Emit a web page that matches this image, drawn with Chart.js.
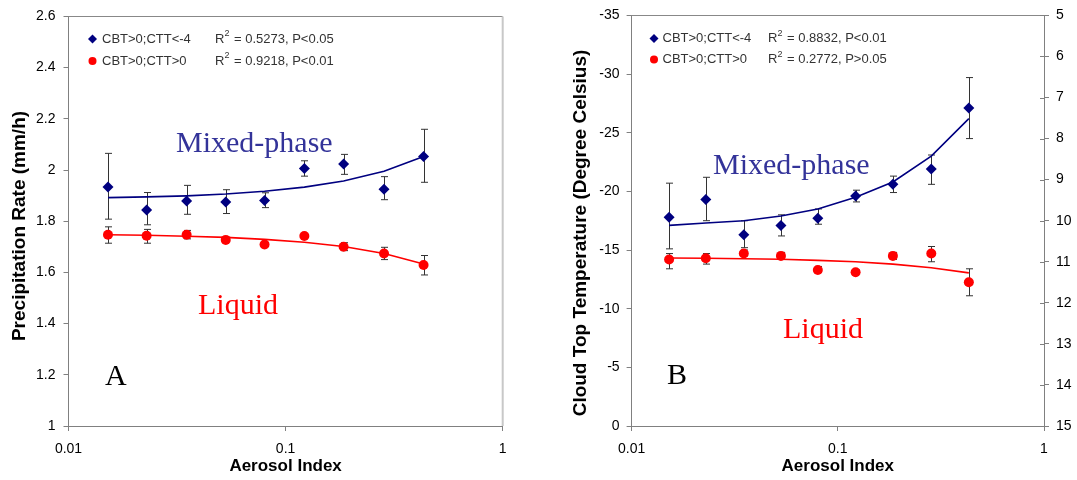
<!DOCTYPE html>
<html>
<head>
<meta charset="utf-8">
<script src="https://cdn.jsdelivr.net/npm/chart.js@4/dist/chart.umd.min.js"></script>
<style>
  body { margin: 0; background: #fff; width: 1077px; height: 480px; overflow: hidden; position: relative; }
  #boxA { position: absolute; left: 0; top: 0; width: 540px; height: 480px; }
  #boxB { position: absolute; left: 540px; top: 0; width: 537px; height: 480px; }
</style>
</head>
<body>
<div id="boxA"><canvas id="chartA"></canvas></div>
<div id="boxB"><canvas id="chartB"></canvas></div>
<script>
// aerosol index bins (shared by both panels)
const aerosol = [0.0152, 0.0229, 0.035, 0.053, 0.080, 0.122, 0.185, 0.284, 0.432];

// panel A - precipitation rate (mm/h)
const precipMixed    = [1.934, 1.844, 1.879, 1.875, 1.881, 2.006, 2.023, 1.925, 2.053];
const precipMixedHi  = [2.065, 1.912, 1.940, 1.923, 1.911, 2.036, 2.061, 1.974, 2.159];
const precipMixedLo  = [1.808, 1.786, 1.827, 1.830, 1.853, 1.976, 1.983, 1.884, 1.952];
const precipMixedFit = [1.892, 1.895, 1.899, 1.906, 1.917, 1.933, 1.957, 1.995, 2.053];
const precipLiquid    = [1.747, 1.743, 1.747, 1.727, 1.709, 1.742, 1.700, 1.674, 1.629];
const precipLiquidHi  = [1.778, 1.768, 1.764, 1.735, 1.717, 1.748, 1.716, 1.698, 1.666];
const precipLiquidLo  = [1.714, 1.714, 1.731, 1.720, 1.701, 1.736, 1.685, 1.650, 1.590];
const precipLiquidFit = [1.747, 1.745, 1.741, 1.737, 1.729, 1.718, 1.701, 1.674, 1.633];

// panel B - cloud top temperature (deg C)
const cttMixed    = [-17.8, -19.3, -16.3, -17.1, -17.7, -19.6, -20.6, -21.9, -27.1];
const cttMixedHi  = [-20.7, -21.2, -17.5, -18.0, -18.5, -20.1, -21.3, -23.1, -29.7];
const cttMixedLo  = [-15.1, -17.5, -15.2, -16.2, -17.2, -19.1, -19.9, -20.6, -24.5];
const cttMixedFit = [-17.1, -17.3, -17.5, -17.9, -18.5, -19.5, -20.8, -23.0, -26.2];
const cttLiquid    = [-14.2, -14.3, -14.7, -14.5, -13.3, -13.1, -14.5, -14.7, -12.25];
const cttLiquidHi  = [-14.7, -14.7, -15.0, -14.8, -13.6, -13.3, -14.8, -15.3, -13.4];
const cttLiquidLo  = [-13.4, -13.8, -14.5, -14.3, -13.1, -13.0, -14.2, -14.0, -11.1];
const cttLiquidFit = [-14.32, -14.30, -14.26, -14.21, -14.12, -14.0, -13.8, -13.49, -13.05];

const xTicks = [0.01, 0.1, 1];

Chart.defaults.font.family = '"Liberation Sans", Arial, sans-serif';
Chart.defaults.color = '#000';

function pts(ys) {
  return aerosol.map((x, i) => ({ x: x, y: ys[i] }));
}

const BLUE = '#000080';
const RED = '#ff0000';

const panelDecor = {
  id: 'panelDecor',
  beforeDatasetsDraw(chart, args, opts) {
    const ctx = chart.ctx, xs = chart.scales.x, ys = chart.scales.y;
    ctx.save();
    ctx.strokeStyle = '#333';
    ctx.lineWidth = 1;
    opts.bars.forEach(b => {
      aerosol.forEach((a, i) => {
        const px = Math.round(xs.getPixelForValue(a)) + 0.5;
        const y1 = ys.getPixelForValue(b.hi[i]);
        const y2 = ys.getPixelForValue(b.lo[i]);
        ctx.beginPath();
        ctx.moveTo(px, y1); ctx.lineTo(px, y2);
        ctx.moveTo(px - 3.5, y1); ctx.lineTo(px + 3.5, y1);
        ctx.moveTo(px - 3.5, y2); ctx.lineTo(px + 3.5, y2);
        ctx.stroke();
      });
    });
    ctx.restore();
  },
  afterDraw(chart, args, opts) {
    const ctx = chart.ctx, area = chart.chartArea;
    ctx.save();
    // frame lines
    ctx.strokeStyle = '#888';
    ctx.lineWidth = 1;
    ctx.beginPath();
    ctx.moveTo(area.left, Math.round(area.top) + 0.5);
    ctx.lineTo(area.right, Math.round(area.top) + 0.5);
    ctx.stroke();
    if (opts.rightFrame) {
      ctx.strokeStyle = '#c8c8c8';
      ctx.lineWidth = 2;
      ctx.beginPath();
      ctx.moveTo(area.right, area.top);
      ctx.lineTo(area.right, area.bottom);
      ctx.stroke();
    }
    // right axis ticks also poke inward a little
    const y2 = chart.scales.y2;
    if (y2) {
      ctx.strokeStyle = '#808080';
      ctx.lineWidth = 1;
      ctx.beginPath();
      y2.ticks.forEach(t => {
        const py = Math.round(y2.getPixelForValue(t.value)) + 0.5;
        ctx.moveTo(area.right - 4, py);
        ctx.lineTo(area.right, py);
      });
      ctx.stroke();
    }

    // y title
    ctx.save();
    ctx.translate(opts.yTitle.x, opts.yTitle.y);
    ctx.rotate(-Math.PI / 2);
    ctx.font = 'bold 19px "Liberation Sans", Arial, sans-serif';
    ctx.fillStyle = '#000';
    ctx.textAlign = 'center';
    ctx.textBaseline = 'middle';
    ctx.fillText(opts.yTitle.text, 0, 0);
    ctx.restore();

    // big labels
    ctx.textBaseline = 'alphabetic';
    ctx.textAlign = 'left';
    ctx.font = '30px "Liberation Serif", "Times New Roman", serif';
    ctx.fillStyle = '#333399';
    ctx.fillText('Mixed-phase', opts.mixed[0], opts.mixed[1]);
    ctx.fillStyle = RED;
    ctx.fillText('Liquid', opts.liquid[0], opts.liquid[1]);
    ctx.fillStyle = '#000';
    ctx.fillText(opts.letter, opts.letterPos[0], opts.letterPos[1]);

    // legend with fit statistics
    const lg = opts.legend;
    ctx.textBaseline = 'middle';
    lg.rows.forEach((row, k) => {
      const y = lg.y[k];
      ctx.fillStyle = row.color;
      ctx.beginPath();
      if (row.shape === 'diamond') {
        ctx.moveTo(lg.mx, y - 4.5); ctx.lineTo(lg.mx + 4.5, y);
        ctx.lineTo(lg.mx, y + 4.5); ctx.lineTo(lg.mx - 4.5, y);
        ctx.closePath();
      } else {
        ctx.arc(lg.mx, y, 4, 0, Math.PI * 2);
      }
      ctx.fill();
      ctx.fillStyle = '#333';
      ctx.font = '13px "Liberation Sans", Arial, sans-serif';
      ctx.fillText(row.label, lg.tx, y);
      let x = lg.rx;
      ctx.fillText('R', x, y);
      x += ctx.measureText('R').width;
      ctx.font = '9px "Liberation Sans", Arial, sans-serif';
      ctx.fillText('2', x, y - 5);
      x += ctx.measureText('2').width + 1;
      ctx.font = '13px "Liberation Sans", Arial, sans-serif';
      ctx.fillText(' = ' + row.stat, x, y);
    });
    ctx.restore();
  }
};

function xScale() {
  return {
    type: 'logarithmic',
    min: 0.01,
    max: 1,
    afterBuildTicks: s => { s.ticks = xTicks.map(v => ({ value: v })); },
    afterFit: s => { s.height = 54; },
    ticks: { font: { size: 14 }, padding: 10, autoSkip: false, maxRotation: 0, callback: v => String(v) },
    grid: { drawOnChartArea: false, tickLength: 5, color: '#808080' },
    border: { color: '#808080' },
    title: { display: true, text: 'Aerosol Index', font: { size: 17, weight: 'bold' }, padding: { bottom: 3, top: 0 } }
  };
}

function seriesSets(mixed, mixedFit, liquid, liquidFit) {
  return [
    { data: pts(mixedFit), showLine: true, borderColor: BLUE, borderWidth: 1.6, pointRadius: 0, tension: 0 },
    { data: pts(liquidFit), showLine: true, borderColor: RED, borderWidth: 1.6, pointRadius: 0, tension: 0 },
    { data: pts(mixed), pointStyle: 'rectRot', pointRadius: 5.5, backgroundColor: BLUE, borderColor: BLUE, borderWidth: 0 },
    { data: pts(liquid), pointStyle: 'circle', pointRadius: 5, backgroundColor: RED, borderColor: RED, borderWidth: 0 }
  ];
}

new Chart(document.getElementById('chartA'), {
  type: 'scatter',
  data: { datasets: seriesSets(precipMixed, precipMixedFit, precipLiquid, precipLiquidFit) },
  plugins: [panelDecor],
  options: {
    responsive: true,
    maintainAspectRatio: false,
    animation: false,
    layout: { padding: { top: 14.7, right: 37.3, left: 0, bottom: 0 } },
    scales: {
      x: xScale(),
      y: {
        min: 1, max: 2.6,
        afterFit: s => { s.width = 68.5; },
        ticks: { stepSize: 0.2, font: { size: 14 }, padding: 8, callback: v => String(Math.round(v * 10) / 10) },
        grid: { drawOnChartArea: false, tickLength: 5, color: '#808080' },
        border: { color: '#808080' }
      }
    },
    plugins: {
      legend: { display: false },
      tooltip: { enabled: false },
      panelDecor: {
        bars: [
          { hi: precipMixedHi, lo: precipMixedLo },
          { hi: precipLiquidHi, lo: precipLiquidLo }
        ],
        rightFrame: true,
        yTitle: { text: 'Precipitation Rate (mm/h)', x: 20, y: 226 },
        mixed: [176, 152],
        liquid: [198, 314],
        letter: 'A',
        letterPos: [105, 385],
        legend: {
          mx: 92.5, tx: 102, rx: 215, y: [39, 61],
          rows: [
            { shape: 'diamond', color: BLUE, label: 'CBT>0;CTT<-4', stat: '0.5273, P<0.05' },
            { shape: 'circle', color: RED, label: 'CBT>0;CTT>0', stat: '0.9218, P<0.01' }
          ]
        }
      }
    }
  }
});

new Chart(document.getElementById('chartB'), {
  type: 'scatter',
  data: { datasets: seriesSets(cttMixed, cttMixedFit, cttLiquid, cttLiquidFit) },
  plugins: [panelDecor],
  options: {
    responsive: true,
    maintainAspectRatio: false,
    animation: false,
    layout: { padding: { top: 14.7, right: 0, left: 0, bottom: 0 } },
    scales: {
      x: xScale(),
      y: {
        min: -35, max: 0, reverse: true,
        afterFit: s => { s.width = 91.6; },
        ticks: { stepSize: 5, font: { size: 14 }, padding: 7, callback: v => String(v) },
        grid: { drawOnChartArea: false, tickLength: 5, color: '#808080' },
        border: { color: '#808080' }
      },
      y2: {
        position: 'right',
        min: 5, max: 15, reverse: true,
        afterFit: s => { s.width = 33; },
        ticks: { stepSize: 1, font: { size: 14 }, padding: 7, callback: v => String(v) },
        grid: { drawOnChartArea: false, tickLength: 5, color: '#808080' },
        border: { color: '#808080' }
      }
    },
    plugins: {
      legend: { display: false },
      tooltip: { enabled: false },
      panelDecor: {
        bars: [
          { hi: cttMixedHi, lo: cttMixedLo },
          { hi: cttLiquidHi, lo: cttLiquidLo }
        ],
        rightFrame: false,
        yTitle: { text: 'Cloud Top Temperature (Degree Celsius)', x: 41, y: 233 },
        mixed: [173, 174],
        liquid: [243, 338],
        letter: 'B',
        letterPos: [127, 384],
        legend: {
          mx: 114, tx: 122.5, rx: 228, y: [38.5, 59.5],
          rows: [
            { shape: 'diamond', color: BLUE, label: 'CBT>0;CTT<-4', stat: '0.8832, P<0.01' },
            { shape: 'circle', color: RED, label: 'CBT>0;CTT>0', stat: '0.2772, P>0.05' }
          ]
        }
      }
    }
  }
});
</script>
</body>
</html>
